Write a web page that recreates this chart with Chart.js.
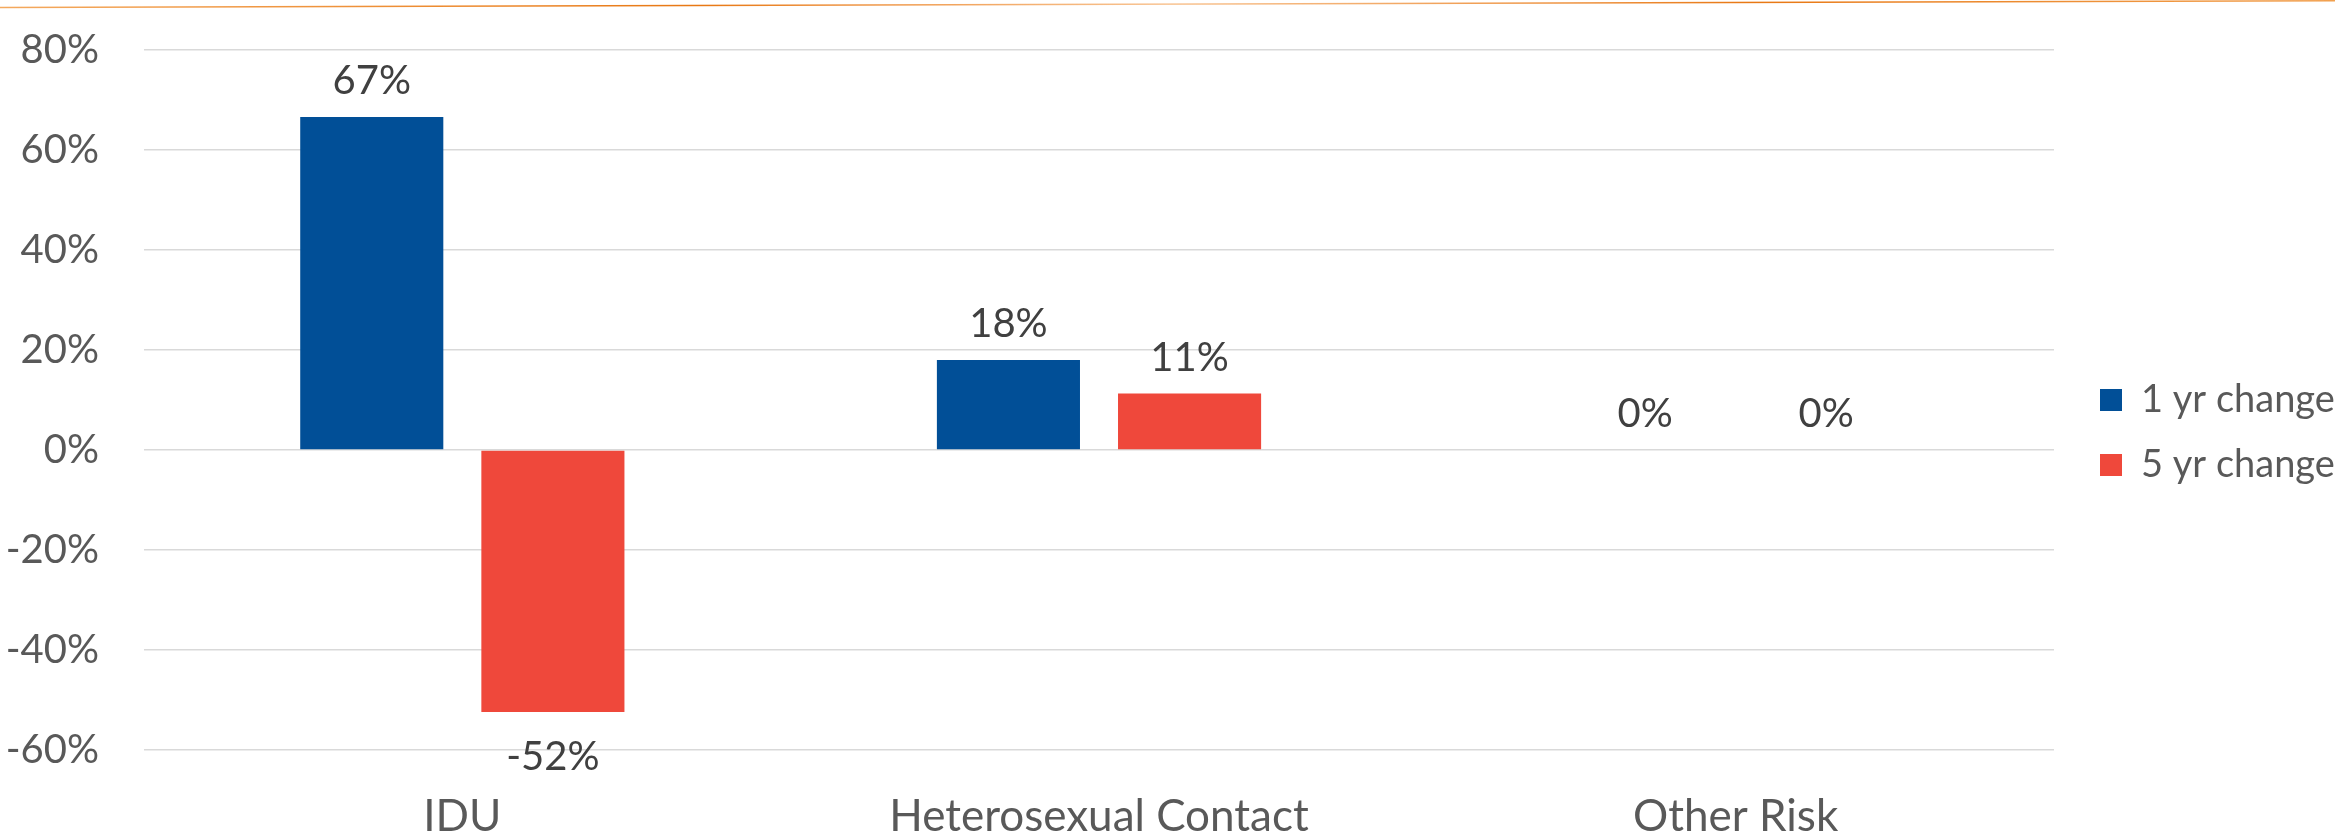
<!DOCTYPE html>
<html>
<head>
<meta charset="utf-8">
<script src="https://cdn.jsdelivr.net/npm/chart.js@4/dist/chart.umd.min.js"></script>
<style>
  html, body { margin: 0; padding: 0; background: #ffffff; }
  #wrap { width: 2335px; height: 835px; position: relative; }
</style>
</head>
<body>
<div id="wrap"><canvas id="c" width="2335" height="835"></canvas></div>
<script>
// ---- data ----
const categories = ['IDU', 'Heterosexual Contact', 'Other Risk'];
const seriesNames = ['1 yr change', '5 yr change'];
const oneYearChange = [0.666, 0.18, 0];
const fiveYearChange = [-0.524, 0.113, 0];
const yTicks = [-0.6, -0.4, -0.2, 0, 0.2, 0.4, 0.6, 0.8];

const FONT = 'Lato';
const fmtPct = v => Math.round(v * 100) + '%';

const topLinePlugin = {
  id: 'topLine',
  beforeDraw(chart) {
    const ctx = chart.ctx;
    ctx.save();
    const g = ctx.createLinearGradient(0, 0, chart.width, 0);
    g.addColorStop(0, 'rgba(240,140,40,0.75)');
    g.addColorStop(0.3, 'rgba(232,120,20,1)');
    g.addColorStop(0.5, 'rgba(245,170,100,0.7)');
    g.addColorStop(0.75, 'rgba(232,120,20,1)');
    g.addColorStop(1, 'rgba(240,150,60,0.9)');
    ctx.strokeStyle = g;
    ctx.lineWidth = 1.6;
    ctx.beginPath();
    ctx.moveTo(0, 7.5);
    ctx.lineTo(chart.width, 0.8);
    ctx.stroke();
    ctx.restore();
  }
};

const LEGEND_WIDTH = 281;
const legendLayoutPlugin = {
  id: 'legendLayout',
  beforeLayout(chart) {
    const lg = chart.legend;
    if (lg && !lg._fixedFit) {
      const origFit = lg.fit.bind(lg);
      lg.fit = function () { origFit(); this.width = LEGEND_WIDTH; };
      lg._fixedFit = true;
    }
  },
  afterLayout(chart) {
    const lg = chart.legend;
    if (!lg) return;
    lg.left += 19; lg.right += 19;
    lg.top -= 10; lg.bottom -= 10;
  }
};

const valueLabelPlugin = {
  id: 'valueLabels',
  afterDatasetsDraw(chart) {
    const ctx = chart.ctx;
    ctx.save();
    ctx.font = '40px ' + FONT;
    ctx.fillStyle = '#404040';
    ctx.textAlign = 'center';
    ctx.textBaseline = 'alphabetic';
    chart.data.datasets.forEach((ds, di) => {
      const meta = chart.getDatasetMeta(di);
      meta.data.forEach((bar, i) => {
        const v = ds.data[i];
        const y = v >= 0 ? bar.y - 23 : bar.y + 58;
        ctx.fillText(fmtPct(v), bar.x, y);
      });
    });
    ctx.restore();
  }
};

new Chart(document.getElementById('c'), {
  type: 'bar',
  data: {
    labels: categories,
    datasets: [
      { label: seriesNames[0], data: oneYearChange, backgroundColor: '#014F97', borderWidth: 0,
        categoryPercentage: 0.569, barPercentage: 0.79 },
      { label: seriesNames[1], data: fiveYearChange, backgroundColor: '#EF483B', borderWidth: 0,
        categoryPercentage: 0.569, barPercentage: 0.79 }
    ]
  },
  options: {
    responsive: false,
    animation: false,
    devicePixelRatio: 1,
    layout: { padding: { top: 50, left: 0, right: 0, bottom: 0 } },
    plugins: {
      legend: {
        position: 'right',
        align: 'center',
        labels: {
          boxWidth: 22, boxHeight: 22, padding: 27,
          color: '#595959',
          font: { family: FONT, size: 38 }
        }
      },
      tooltip: { enabled: false }
    },
    scales: {
      x: {
        grid: { display: false, drawTicks: false },
        border: { display: false },
        ticks: { color: '#595959', font: { family: FONT, size: 44 }, padding: 40 },
        afterFit(scale) { scale.height = 85; }
      },
      y: {
        min: -0.6, max: 0.8,
        afterBuildTicks(scale) { scale.ticks = yTicks.map(v => ({ value: v })); },
        grid: { color: '#D9D9D9', lineWidth: 1.5, drawTicks: false },
        border: { display: false },
        ticks: { color: '#595959', font: { family: FONT, size: 40 }, padding: 45,
                 callback: v => fmtPct(v) },
        afterFit(scale) { scale.width = 144; scale.paddingTop = 0; scale.paddingBottom = 0; }
      }
    }
  },
  plugins: [topLinePlugin, legendLayoutPlugin, valueLabelPlugin]
});
</script>
</body>
</html>
